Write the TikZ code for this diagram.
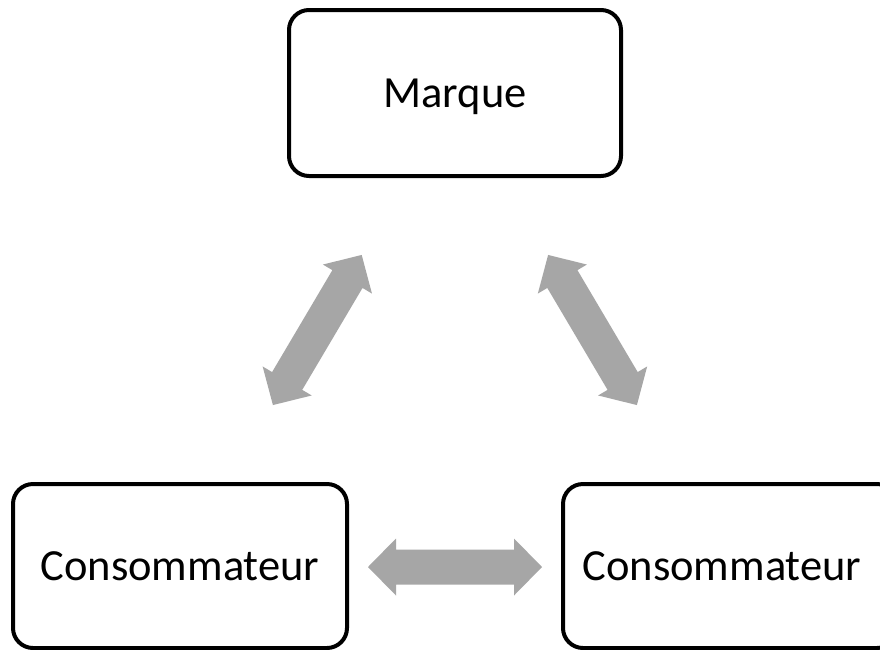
\documentclass[tikz,border=0pt]{standalone}
\usepackage{fontspec}
\setmainfont{Carlito}
\definecolor{arrowgray}{HTML}{A6A6A6}
\newcommand{\dblblock}[3]{%
  \fill[arrowgray, shift={(#1)}, rotate=#2]
    ({-#3/2},0) -- ({-#3/2+28},28.5) -- ({-#3/2+28},17.5) -- ({#3/2-28},17.5)
    -- ({#3/2-28},28.5) -- ({#3/2},0) -- ({#3/2-28},-28.5) -- ({#3/2-28},-17.5)
    -- ({-#3/2+28},-17.5) -- ({-#3/2+28},-28.5) -- cycle;}
\begin{document}
\begin{tikzpicture}[x=1pt, y=-1pt,
  box/.style={draw=black, line width=4pt, rounded corners=20pt, fill=white,
    minimum width=332pt, inner sep=0pt, text depth=0pt,
    font=\fontsize{44.5}{53}\selectfont}]
\useasboundingbox (0,0) rectangle (880,649);
\clip (0,0) rectangle (880,649);
\fill[white] (0,0) rectangle (880,649);
\node[box, minimum height=166pt] (marque) at (455,93) {Marque};
\node[box, minimum width=334pt, minimum height=164pt] (c1) at (180,566) {Consommateur};
\node[box, minimum width=334pt, minimum height=164pt] (c2) at (730,566) {\hspace*{-16pt}Consommateur};
\dblblock{317.3,330}{59.4}{174.4}
\dblblock{592.5,330}{-59.4}{174.4}
\dblblock{455,567}{0}{174}
\end{tikzpicture}
\end{document}
